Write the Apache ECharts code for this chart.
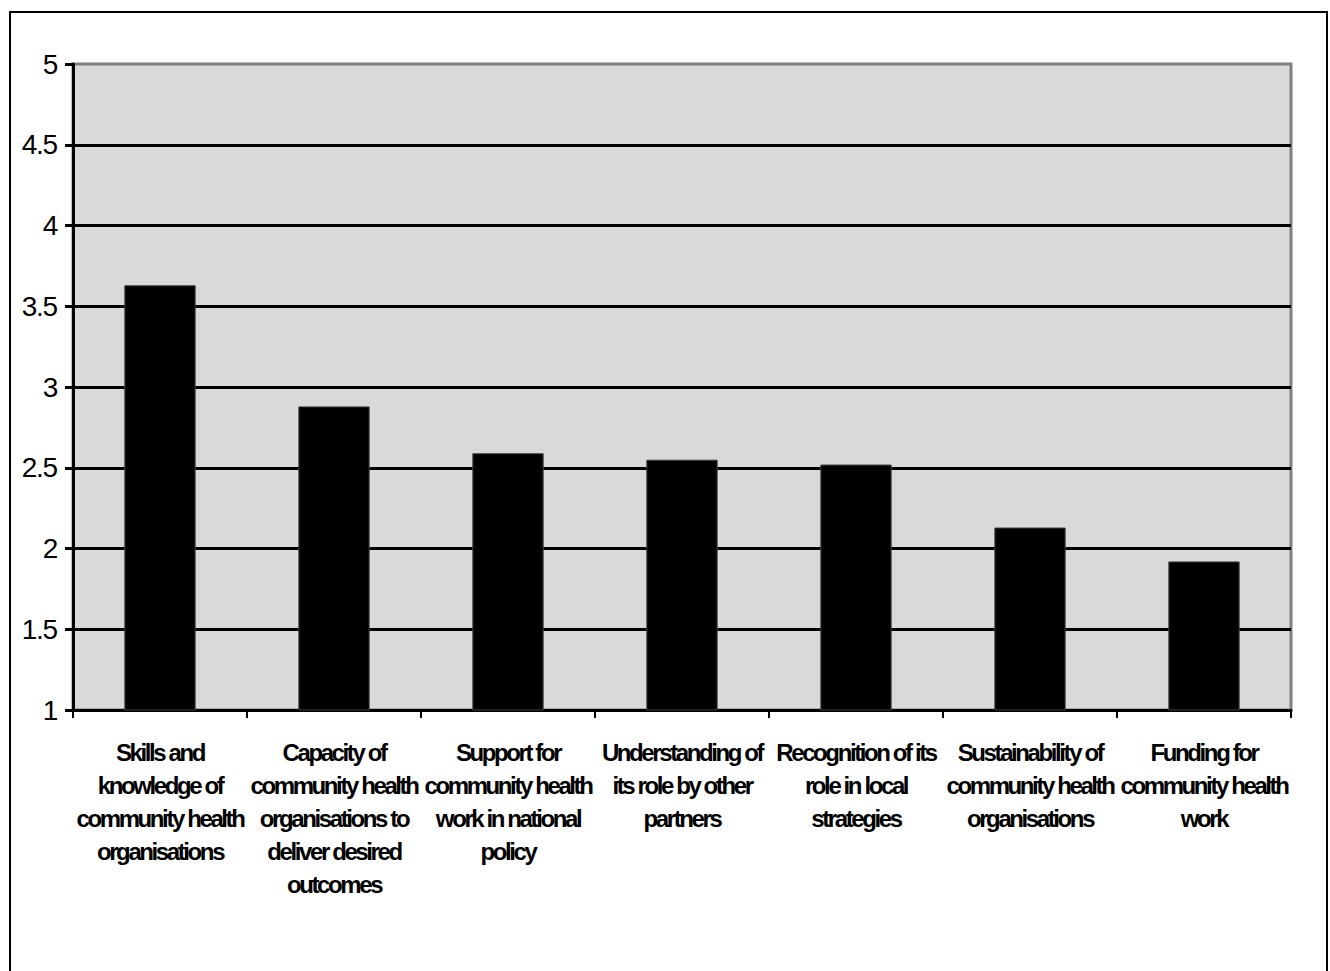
<!DOCTYPE html>
<html>
<head>
<meta charset="utf-8">
<title>Community health ratings</title>
<script src="https://cdn.jsdelivr.net/npm/echarts@6/dist/echarts.min.js"></script>
<style>
  html, body { margin: 0; padding: 0; background: #fff; overflow: hidden; }
  #chart { width: 1330px; height: 971px; }
  /* tight glyph spacing for the axis texts */
  #chart text { letter-spacing: -1.2px; }
  #chart text[style*="bold"] { letter-spacing: -2.4px; }
</style>
</head>
<body>
<div id="chart"></div>
<script>
const categories = [
  'Skills and\nknowledge of\ncommunity health\norganisations',
  'Capacity of\ncommunity health\norganisations to\ndeliver desired\noutcomes',
  'Support for\ncommunity health\nwork in national\npolicy',
  'Understanding of\nits role by other\npartners',
  'Recognition of its\nrole in local\nstrategies',
  'Sustainability of\ncommunity health\norganisations',
  'Funding for\ncommunity health\nwork'
];
const scores = [3.63, 2.88, 2.59, 2.55, 2.52, 2.13, 1.92];
const yMin = 1;
const yMax = 5;
const yStep = 0.5;

const FONT = "'Liberation Sans', Arial, sans-serif";

const chart = echarts.init(document.getElementById('chart'), null, { renderer: 'svg' });

chart.setOption({
  animation: false,
  backgroundColor: '#ffffff',
  graphic: [{
    type: 'rect',
    shape: { x: 10, y: 12, width: 1317, height: 1000 },
    style: { fill: 'none', stroke: '#000', lineWidth: 2 },
    silent: true
  }],
  grid: {
    left: 73,
    right: 39,
    top: 64,
    bottom: 261,
    show: true,
    backgroundColor: '#d9d9d9',
    borderColor: '#808080',
    borderWidth: 3
  },
  xAxis: {
    type: 'category',
    data: categories,
    boundaryGap: true,
    axisLine: { show: true, lineStyle: { color: '#000', width: 3 } },
    axisTick: { show: true, alignWithLabel: false, length: 8, lineStyle: { color: '#000', width: 2 } },
    axisLabel: {
      interval: 0,
      margin: 26,
      color: '#000',
      fontFamily: FONT,
      fontWeight: 'bold',
      fontSize: 24,
      lineHeight: 33,
      align: 'center'
    },
    splitLine: { show: false }
  },
  yAxis: {
    type: 'value',
    min: yMin,
    max: yMax,
    interval: yStep,
    axisLine: { show: true, lineStyle: { color: '#000', width: 3 } },
    axisTick: { show: true, length: 8, lineStyle: { color: '#000', width: 3 } },
    axisLabel: {
      margin: 16,
      color: '#000',
      fontFamily: FONT,
      fontSize: 28,
      formatter: v => String(v)
    },
    splitLine: {
      show: true,
      showMinLine: false,
      showMaxLine: false,
      lineStyle: { color: '#000', width: 3 }
    }
  },
  series: [{
    type: 'bar',
    data: scores,
    barWidth: '41%',
    itemStyle: { color: '#000', borderColor: '#444', borderWidth: 1 },
    silent: true
  }]
});
</script>
</body>
</html>
